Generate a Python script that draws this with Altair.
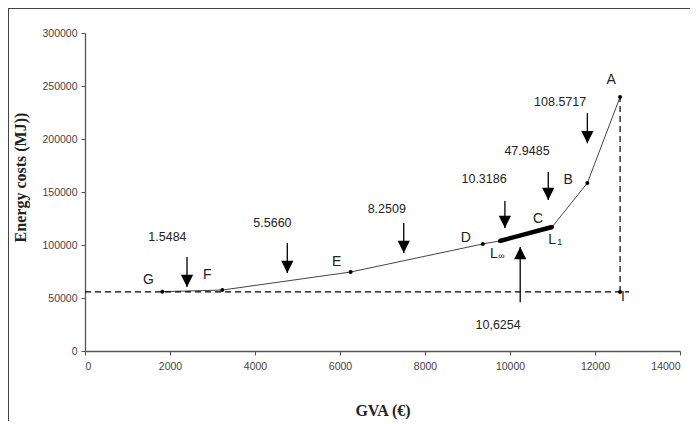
import altair as alt
import pandas as pd

# curve points
pt_name = ["G", "F", "E", "D", "L∞", "L1", "B", "A"]
pt_x = [1820, 3230, 6250, 9360, 9760, 10990, 11820, 12590]
pt_y = [56000, 57500, 74500, 101000, 103800, 117000, 158500, 239600]

# thick segment L∞–L1
seg_x = [9760, 10990]
seg_y = [103800, 117000]

# point I and reference dashed lines
i_x = 12590
i_y = 55700
h_end_x = 12800

# letter labels
lab_text = ["A", "B", "C", "D", "E", "F", "G", "L", "L", "I"]
lab_x = [12380, 11370, 10660, 8960, 5920, 2880, 1490, 9620, 10990, 12660]
lab_y = [255700, 161000, 124500, 106600, 84000, 71700, 67000, 91500, 104700, 51000]
sub_text = ["∞", "1"]
sub_x = [9800, 11170]
sub_y = [89500, 102700]

# down arrows with values
arr_label = ["1.5484", "5.5660", "8.2509", "10.3186", "47.9485", "108.5717"]
arr_x = [2400, 4760, 7500, 9880, 10900, 11820]
arr_top = [88700, 101900, 120800, 141500, 168900, 224500]
arr_tip = [60400, 73600, 92500, 116000, 142500, 196000]
arr_tx = [1940, 4410, 7100, 9390, 10400, 11180]
arr_ty = [107500, 120800, 134000, 162000, 188700, 235000]

# up arrow
up_label = "10,6254"
up_x = 10240
up_tip = 98000
up_bottom = 46000
up_tx = 9720
up_ty = 24500

pts = pd.DataFrame({"name": pt_name, "x": pt_x, "y": pt_y})
seg = pd.DataFrame({"x": seg_x, "y": seg_y})
labs = pd.DataFrame({"t": lab_text, "x": lab_x, "y": lab_y})
subs = pd.DataFrame({"t": sub_text, "x": sub_x, "y": sub_y})
arrows = pd.DataFrame({"label": arr_label, "x": arr_x, "top": arr_top, "tip": arr_tip,
                       "tx": arr_tx, "ty": arr_ty})
up = pd.DataFrame({"label": [up_label], "x": [up_x], "tip": [up_tip], "bottom": [up_bottom],
                   "tx": [up_tx], "ty": [up_ty]})
hline = pd.DataFrame({"x": [0], "x2": [h_end_x], "y": [i_y]})
vline = pd.DataFrame({"x": [i_x], "y": [i_y], "y2": [pt_y[-1]]})
ipt = pd.DataFrame({"x": [i_x], "y": [i_y]})

xs = alt.Scale(domain=[0, 14000], nice=False)
ys = alt.Scale(domain=[0, 300000], nice=False)

X = alt.X("x:Q", scale=xs, axis=alt.Axis(values=list(range(0, 14001, 2000)), title="GVA (€)",
                                            format="d", grid=False, titleY=67, titleBaseline="bottom"))
Y = alt.Y("y:Q", scale=ys, axis=alt.Axis(values=list(range(0, 300001, 50000)), title="Energy costs (MJ))",
                                            format="d", grid=False, titleX=-57, titleY=144,
                                            titleBaseline="bottom"))

base_line = alt.Chart(pts).mark_line(color="#444444", strokeWidth=1).encode(x=X, y=Y, order="x:Q")
thick = alt.Chart(seg).mark_line(color="black", strokeWidth=4.5).encode(x="x:Q", y="y:Q")
dots = alt.Chart(pts).mark_circle(color="black", size=16, opacity=1).encode(x="x:Q", y="y:Q")
idot = alt.Chart(ipt).mark_circle(color="black", size=16, opacity=1).encode(x="x:Q", y="y:Q")

hdash = alt.Chart(hline).mark_rule(color="black", strokeWidth=1.2, strokeDash=[6, 4]).encode(
    x="x:Q", x2="x2:Q", y="y:Q")
vdash = alt.Chart(vline).mark_rule(color="black", strokeWidth=1.2, strokeDash=[6, 4]).encode(
    x="x:Q", y="y:Q", y2="y2:Q")

letters = alt.Chart(labs).mark_text(fontSize=14, font="Liberation Sans", color="#222222").encode(
    x="x:Q", y="y:Q", text="t:N")
subletters = alt.Chart(subs).mark_text(fontSize=9, font="Liberation Sans", color="#222222").encode(
    x="x:Q", y="y:Q", text="t:N")

shafts = alt.Chart(arrows).mark_rule(color="black", strokeWidth=1.3).encode(
    x="x:Q", y="top:Q", y2="tip:Q")
heads = alt.Chart(arrows).mark_point(shape="M-0.5,-1L0.5,-1L0,0Z", size=600, filled=True,
                                     color="black", opacity=1).encode(x="x:Q", y="tip:Q")
arr_text = alt.Chart(arrows).mark_text(fontSize=12.5, font="Liberation Sans", color="#222222").encode(
    x="tx:Q", y="ty:Q", text="label:N")

up_shaft = alt.Chart(up).mark_rule(color="black", strokeWidth=1.3).encode(
    x="x:Q", y="bottom:Q", y2="tip:Q")
up_head = alt.Chart(up).mark_point(shape="M-0.5,1L0.5,1L0,0Z", size=600, filled=True,
                                   color="black", opacity=1).encode(x="x:Q", y="tip:Q")
up_text = alt.Chart(up).mark_text(fontSize=12.5, font="Liberation Sans", color="#222222").encode(
    x="tx:Q", y="ty:Q", text="label:N")

frame_top = alt.Chart(pts).mark_rule(color="#444444", strokeWidth=1.5).encode(
    x=alt.value(-77), x2=alt.value(620), y=alt.value(-25))
frame_left = alt.Chart(pts).mark_rule(color="#444444", strokeWidth=1.5).encode(
    x=alt.value(-77), y=alt.value(-25), y2=alt.value(400))

chart = alt.layer(
    base_line, hdash, vdash, thick, dots, idot, letters, subletters,
    shafts, heads, arr_text, up_shaft, up_head, up_text, frame_top, frame_left
).properties(
    width=595, height=318,
    autosize=alt.AutoSizeParams(type="none"),
    padding={"left": 77, "top": 25, "right": 10, "bottom": 70},
).configure_view(stroke=None).configure_axis(
    domainColor="#555555", tickColor="#555555", labelColor="#444444", labelFontSize=10.5,
    labelFont="Liberation Sans", tickSize=4, domainWidth=1.3,
    titleFont="Liberation Serif", titleFontSize=16, titleFontWeight="bold", titleColor="#222222",
).configure_axisY(labelPadding=4).configure_axisX(labelPadding=6)

chart.save("out.html", embed_options={"renderer": "svg", "actions": False})
